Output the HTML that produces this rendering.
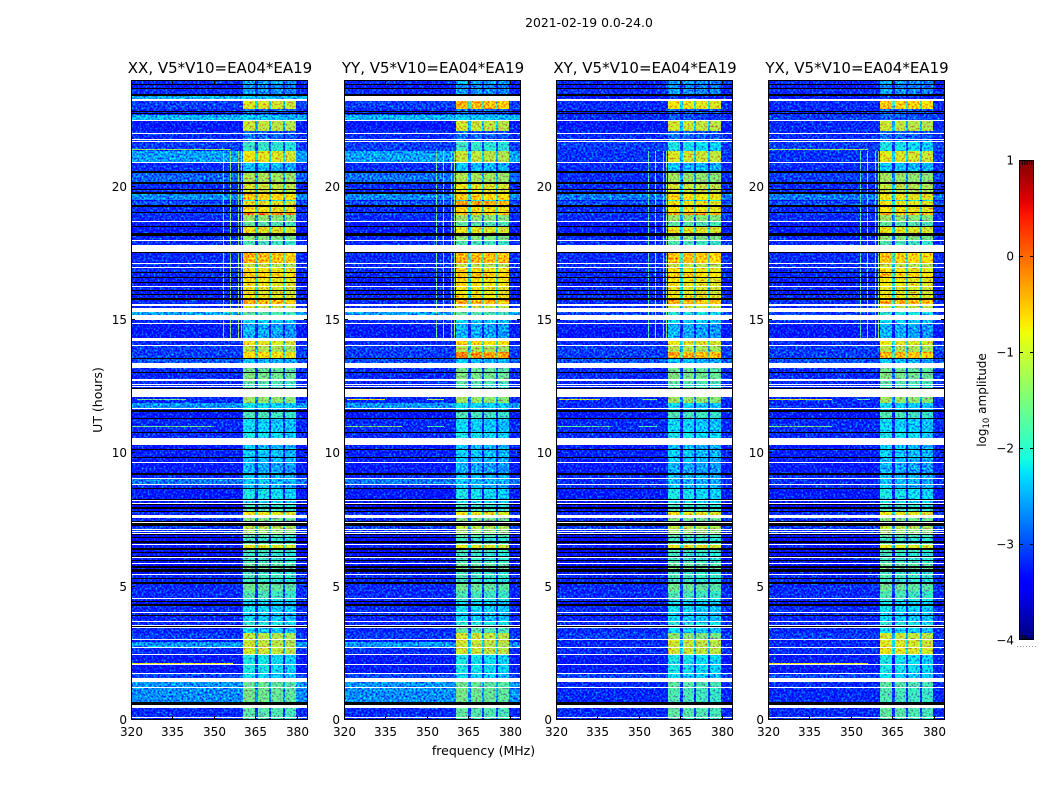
<!DOCTYPE html>
<html lang="en">
<head>
<meta charset="utf-8">
<title>2021-02-19 0.0-24.0</title>
<style>
html,body{margin:0;padding:0;background:#fff;}
svg{display:block;}
text{font-family:"DejaVu Sans","Liberation Sans",sans-serif;fill:#000;}
</style>
</head>
<body>
<svg id="figure" xmlns="http://www.w3.org/2000/svg" width="1050" height="800" viewBox="0 0 1050 800">
  <defs>
    <filter id="speckle" x="0" y="0" width="100%" height="100%" color-interpolation-filters="sRGB">
      <feTurbulence type="fractalNoise" baseFrequency="0.5" numOctaves="2" seed="7" result="n"/>
      <feColorMatrix in="n" type="matrix" values="0 0 0 0 0.544  1 0 0 0 0  0 0 0 0 0.544  0 0 0 0 1" result="g"/>
      <feComposite in="SourceGraphic" in2="g" operator="arithmetic" k1="0" k2="1" k3="1.8" k4="-0.98" result="m"/>
      <feComposite in="m" in2="SourceAlpha" operator="in"/>
    </filter>
    <linearGradient id="jet-gradient" x1="0" y1="1" x2="0" y2="0"></linearGradient>
  </defs>
  <text x="589" y="27" font-size="12.4" text-anchor="middle">2021-02-19 0.0-24.0</text>
  <text x="483.5" y="755" font-size="12.5" text-anchor="middle">frequency (MHz)</text>
  <text transform="translate(102,400) rotate(-90)" font-size="12.5" text-anchor="middle">UT (hours)</text>
  <text transform="translate(986,400) rotate(-90)" font-size="12" text-anchor="middle">log<tspan font-size="8.5" dy="3">10</tspan><tspan dy="-3"> amplitude</tspan></text>
  <g id="panels"></g>
  <g id="colorbar"></g>
</svg>
<script>
// ---- axes / categories ----
const panelNames = ["XX, V5*V10=EA04*EA19","YY, V5*V10=EA04*EA19","XY, V5*V10=EA04*EA19","YX, V5*V10=EA04*EA19"];
const xTicks = [320,335,350,365,380];
const yTicks = [0,5,10,15,20];
const cbarTicks = [1,0,-1,-2,-3,-4];

// ---- frequency zones (MHz): continuum, four sub-bands with gaps, upper edge ----
const zoneEdges = [320,360.5,365,365.8,369.8,370.5,374.9,375.6,379.8,384];
const zoneOffset = [null,0,-1.3,-0.05,-1.3,-0.1,-1.3,-0.15,null];

// ---- time rows (UT hours) ----
const rowTop = [24,23.81,23.66,23.4,23.21,22.91,22.8,22.73,22.69,22.46,
22.09,21.98,21.75,21.68,21.34,20.89,20.51,20.1,19.88,19.73,
19.5,19.46,19.24,19.01,18.94,18.68,18.49,18.15,17.96,17.51,
17.1,16.95,16.76,16.58,16.39,16.24,16.09,15.94,15.75,15.53,
15.3,15,14.85,14.21,14.03,13.8,13.54,13.2,13.01,12.71,
12.56,12.49,12.11,11.89,11.66,11.55,11.29,10.76,10.31,10.13,
9.83,9.64,9.19,9.04,8.81,8.66,8.21,8.06,7.91,7.8,
7.58,7.28,7.13,7.05,6.94,6.83,6.64,6.56,6.38,6.26,
6.08,5.96,5.85,5.7,5.55,5.44,5.29,5.1,4.84,4.54,
4.43,4.28,4.01,3.9,3.68,3.45,3.26,3,2.93,2.7,
2.44,2.06,1.73,1.43,1.2,0.45,0.08];
const rowBottom = [23.85,23.7,23.48,23.29,22.91,22.84,22.76,22.69,22.5,22.09,
22.01,21.79,21.71,21.34,20.93,20.59,20.18,19.91,19.8,19.5,
19.46,19.31,19.05,18.94,18.71,18.53,18.26,18,17.81,17.14,
16.99,16.8,16.61,16.43,16.28,16.13,15.98,15.83,15.6,15.45,
15.19,14.89,14.33,14.06,13.8,13.58,13.39,13.05,12.79,12.6,
12.53,12.45,11.89,11.7,11.63,11.33,10.8,10.58,10.16,9.86,
9.68,9.26,9.08,8.85,8.7,8.29,8.14,7.99,7.84,7.69,
7.46,7.16,7.09,7.01,6.86,6.71,6.6,6.45,6.3,6.15,
6,5.89,5.78,5.66,5.48,5.33,5.18,4.84,4.58,4.46,
4.35,4.05,3.94,3.71,3.56,3.26,3.04,2.93,2.74,2.48,
2.1,1.76,1.58,1.24,0.68,0.11,0];

// ---- dropped scans drawn black (top, bottom hours); unlisted gaps stay white ----
const blackTop = [23.85,23.7,23.48,22.84,22.76,20.59,20.18,19.91,19.8,19.31,19.05,18.53,18.26,17.55,16.8,16.61,16.43,16.13,15.98,15.83,13.58,13.05,12.45,11.63,11.33,10.8,10.16,9.86,9.26,8.7,8.29,8.1,7.99,7.84,7.46,7.39,6.98,6.86,6.71,6.45,6.3,6.15,6,5.78,5.66,5.33,5.18,4.46,4.35,3.94,3.53,0.68];
const blackBottom = [23.81,23.66,23.4,22.8,22.73,20.51,20.1,19.88,19.73,19.24,19.01,18.49,18.15,17.51,16.76,16.58,16.39,16.09,15.94,15.75,13.54,13.01,12.41,11.55,11.29,10.76,10.13,9.83,9.19,8.66,8.25,8.06,7.91,7.8,7.43,7.28,6.94,6.83,6.64,6.38,6.26,6.11,5.96,5.7,5.55,5.29,5.1,4.43,4.28,3.9,3.49,0.56];

// ---- log10 amplitude below the band (continuum), per row ----
const lowXX = [-3.1,-3.2,-3.1,-2.4,-3,-3.1,-3.2,-3.1,-2.4,-3.2,
-3.1,-3.1,-3.1,-3,-2.5,-3.1,-2.8,-3.1,-3.1,-2.6,
-3.3,-2.9,-3.1,-3,-3.1,-3.2,-3.2,-3.1,-3.1,-3.1,
-3.1,-3.1,-3.1,-3.2,-3.2,-3.1,-3.2,-3.1,-3.1,-3.1,
-2.5,-3.1,-3.2,-3.1,-3,-3,-2.9,-3.1,-3.1,-3.1,
-3.1,-3.1,-3.1,-2.55,-3.1,-3.2,-3.1,-3.1,-3.2,-3.15,
-3.2,-3.2,-3.1,-2.7,-3.1,-3.2,-3.2,-3.4,-3.2,-3.1,
-3.1,-3,-3.1,-3.1,-3.3,-3.4,-3.3,-3.2,-3.3,-3.3,
-3.2,-3.2,-3.3,-3.3,-3.2,-3.1,-3.1,-3.1,-3.1,-3.1,
-3.3,-3.1,-3.1,-3.15,-3.1,-3.1,-3,-3.2,-2.55,-3.1,
-3.2,-3.2,-2.95,-2.55,-2.6,-3.1,-3.1];
const lowYY = [-3.1,-3.2,-3.1,null,-3,-3.1,-3.2,-3.1,-2.4,-3.2,
-3.1,-3.1,-3.1,-3,-2.5,-3.1,-2.75,-3.1,-3.1,-2.6,
-3.3,-2.9,-3.1,-3,-3.1,-3.2,-3.2,-3.1,-3.1,-3.1,
-3.1,-3.1,-3.1,-3.2,-3.2,-3.1,-3.2,-3.1,-3.1,-3.1,
-2.5,-3.1,-3.2,-3.1,-3,-3,-2.9,-3.1,-3.1,-3.1,
-3.1,-3.1,-3.1,-2.55,-3.1,-3.2,-3.1,-3.1,-3.2,-3.15,
-3.2,-3.2,-3.1,-2.7,-3.1,-3.2,-3.2,-3.4,-3.2,-3.1,
-3.1,-3,-3.1,-3.1,-3.3,-3.4,-3.3,-3.2,-3.3,-3.3,
-3.2,-3.2,-3.3,-3.3,-3.2,-3.1,-3.1,-3.1,-3.1,-3.1,
-3.3,-3.1,-3.1,-3.15,-3.1,-3.1,-3,-3.2,-2.55,-3.1,
-3.2,-3.2,-2.95,-2.55,-2.6,-3.1,-3.1];
const lowXY = [-3.1,-3.2,-3.1,-3.2,-3.1,-3.1,-3.2,-3.1,-3.1,-3.2,
-3.1,-3.1,-3.1,-3,-3.05,-3.1,-3.1,-3.1,-3.1,-2.7,
-3.3,-2.9,-3.1,-3,-3.1,-3.2,-3.2,-3.1,-3.1,-3.1,
-3.1,-3.1,-3.1,-3.2,-3.2,-3.1,-3.2,-3.1,-3.1,-3.1,
-3,-3.1,-3.2,-3.1,-3,-3,-2.9,-3.1,-3.1,-3.1,
-3.1,-3.1,-3.1,-3.1,-3.1,-3.2,-3.1,-3.1,-3.2,-3.15,
-3.2,-3.2,-3.1,-3.1,-3.1,-3.2,-3.2,-3.4,-3.2,-3.1,
-3.1,-3,-3.1,-3.1,-3.3,-3.4,-3.3,-3.2,-3.3,-3.3,
-3.2,-3.2,-3.3,-3.3,-3.2,-3.1,-3.1,-3.1,-3.1,-3.1,
-3.3,-3.1,-3.1,-3.15,-3.1,-3.1,-3,-3.2,-3.1,-3.1,
-3.2,-3.2,-2.95,-3.1,-3.1,-3.1,-3.1];
const lowYX = [-3.1,-3.2,-3.1,-3.2,-3.1,-3.1,-3.2,-3.1,-3,-3.1,
-3.1,-3.1,-3.1,-3,-3.05,-3.1,-3,-3.1,-3.1,-2.7,
-3.3,-2.9,-3.1,-3,-3.1,-3.2,-3.2,-3.1,-3.1,-3.1,
-3.1,-3.1,-3.1,-3.2,-3.2,-3.1,-3.2,-3.1,-3.1,-3.1,
-3,-3.1,-3.2,-3.1,-3,-3,-2.9,-3.1,-3.1,-3.1,
-3.1,-3.1,-3.1,-3.1,-3.1,-3.2,-3.1,-3.1,-3.2,-3.15,
-3.2,-3.2,-3.1,-3.1,-3.1,-3.2,-3.2,-3.4,-3.2,-3.1,
-3.1,-3,-3.1,-3.1,-3.3,-3.4,-3.3,-3.2,-3.3,-3.3,
-3.2,-3.2,-3.3,-3.3,-3.2,-3.1,-3.1,-3.1,-3.1,-3.1,
-3.3,-3.1,-3.1,-3.15,-3.1,-3.1,-3,-3.2,-3.1,-3.1,
-3.2,-3.2,-2.95,-3.1,-3.1,-3.1,-3.1];

// ---- log10 amplitude inside the band, per row ----
const bandXX = [-2.4,-2.6,-2.5,-2.3,-0.9,-2.7,-2.8,-2.8,-2.25,-1.05,
-2.8,-2.7,-2.7,-1.9,-0.85,-2.3,-1.2,-1,-1,-0.6,
-2,-0.85,-0.75,-0.15,-1.35,-1.7,-0.85,-1.4,-1.8,-0.5,
-1.1,-0.75,-0.6,-0.8,-0.8,-0.9,-0.9,-0.8,-0.45,-1,
-1.7,-2.2,-2.4,-0.85,-1.15,-0.7,-2.3,-1.6,-1.5,-1.7,
-2,-1.7,-1.3,-2.15,-2.3,-1.8,-2.2,-2.1,-2.3,-2.25,
-2.3,-2.4,-2.3,-2.3,-2.3,-2.1,-2.1,-1.9,-1.8,-0.8,
-1.5,-1.1,-1.3,-1.3,-1.7,-1.9,-1.7,-0.85,-1.8,-1.9,
-1.9,-1.8,-1.6,-1.5,-1.9,-1.8,-1.9,-1.6,-1.8,-2,
-2.2,-2.15,-2.3,-2.2,-2,-2.2,-1.1,-1.1,-1.05,-1,
-2.1,-2.1,-2.2,-1.6,-1.55,-1.7,-1.8];
const bandYY = [-2.4,-2.6,-2.5,null,-0.5,-2.7,-2.8,-2.8,-2.25,-1,
-2.8,-2.7,-2.7,-1.9,-1.05,-2.3,-1.2,-0.85,-0.85,-0.6,
-2,-0.35,-0.7,-0.5,-1.35,-1.7,-0.85,-1.4,-1.8,-0.45,
-1.1,-0.7,-0.55,-0.7,-0.7,-0.8,-0.8,-0.7,-0.45,-1,
-1.7,-2.2,-2.4,-0.65,-1.15,-0.25,-2.3,-1.6,-1.5,-1.7,
-2,-1.7,-1.3,-2.15,-2.3,-1.8,-2.2,-2.1,-2.3,-2.25,
-2.3,-2.4,-2.3,-2.3,-2.3,-2.1,-2.1,-1.9,-1.8,-0.8,
-1.5,-1.1,-1.3,-1.3,-1.7,-1.9,-1.7,-0.85,-1.8,-1.9,
-1.9,-1.8,-1.6,-1.5,-1.9,-1.8,-1.9,-1.6,-1.8,-2,
-2.2,-2.15,-2.3,-2.2,-2,-1.7,-1,-0.95,-1.05,-1,
-2.1,-2.1,-2.2,-1.6,-1.55,-1.7,-1.8];
const bandXY = [-2.5,-2.6,-2.5,-3,-0.8,-2.7,-2.8,-2.8,-2.9,-1,
-2.8,-2.7,-2.7,-2.1,-0.95,-2.3,-1.3,-1,-1,-0.7,
-2,-0.75,-0.75,-0.35,-1.35,-1.7,-0.85,-1.4,-1.8,-0.55,
-1.1,-0.75,-0.6,-0.8,-0.8,-0.9,-0.9,-0.8,-0.45,-1,
-2,-2.2,-2.4,-0.85,-1.15,-0.4,-2.3,-1.6,-1.5,-1.7,
-2,-1.7,-1.3,-2.2,-2.3,-1.8,-2.2,-2.1,-2.3,-2.25,
-2.3,-2.4,-2.3,-2.35,-2.3,-2.1,-2.1,-1.9,-1.8,-0.8,
-1.5,-1.1,-1.3,-1.3,-1.7,-1.9,-1.7,-0.85,-1.8,-1.9,
-1.9,-1.8,-1.6,-1.5,-1.9,-1.8,-1.9,-1.6,-1.8,-2,
-2.2,-2.15,-2.3,-2.2,-2,-2.2,-1.4,-0.95,-1.05,-1,
-2.1,-2.1,-2.2,-1.7,-1.8,-1.7,-1.8];
const bandYX = [-2.5,-2.6,-2.5,-3,-0.6,-2.7,-2.8,-2.8,-2.8,-1.05,
-2.8,-2.7,-2.7,-2.1,-0.9,-2.3,-1.3,-1.1,-1.1,-0.8,
-2,-0.8,-0.75,-0.4,-1.35,-1.7,-0.85,-1.4,-1.8,-0.6,
-1.1,-0.75,-0.6,-0.8,-0.8,-0.9,-0.9,-0.8,-0.45,-1,
-2,-2.2,-2.4,-0.85,-1.15,-0.5,-2.3,-1.6,-1.5,-1.7,
-2,-1.7,-1.3,-2.2,-2.3,-1.8,-2.2,-2.1,-2.3,-2.25,
-2.3,-2.4,-2.3,-2.35,-2.3,-2.1,-2.1,-1.9,-1.8,-0.8,
-1.5,-1.1,-1.3,-1.3,-1.7,-1.9,-1.7,-0.85,-1.8,-1.9,
-1.9,-1.8,-1.6,-1.5,-1.9,-1.8,-1.9,-1.6,-1.8,-2,
-2.2,-2.15,-2.3,-2.2,-2,-2.2,-1,-0.95,-0.9,-0.85,
-2.1,-2.1,-2.2,-1.7,-1.8,-1.7,-1.8];

// ---- narrow-band interference ----
const rfiFreq = [353.4,355.8,358.6,359.7];
const rfiStartHour = 14.3;
const rfiEndHour = 21.35;
const rfiXX = [-1.7,-1.5,-1.4,-1.3];
const rfiYY = [-1.6,-1.5,-1.5,-1.4];
const rfiXY = [-1.8,-1.4,-1.5,-1.4];
const rfiYX = [-1.8,-1.4,-1.5,-1.4];

// ---- time-constant interference lines ----
const spikePanel = [0,0,0,0,1,1,1,1,2,2,2,2,3,3,3,3,3];
const spikeHour = [2.15,11.02,12.04,21.41,12.04,12.04,11.02,11.02,12.04,12.04,11.02,11.02,12.04,12.04,11.02,2.15,21.41];
const spikeFrom = [320,320,322,320,321,350,320,350,321,351,320,350,320,352,320,320,320];
const spikeTo = [356.8,350,340,356,335,356,341,356,336,356.5,340,356.5,343,357,343,356,356];
const spikeLevel = [-0.9,-1.6,-1.6,-1.3,-0.8,-1.2,-1.5,-1.8,-1,-1.5,-1.7,-1.8,-1,-1.7,-1.6,-0.9,-1.3];

// ---- bundled per-panel references ----
const lowByPanel = [lowXX,lowYY,lowXY,lowYX];
const bandByPanel = [bandXX,bandYY,bandXY,bandYX];
const rfiByPanel = [rfiXX,rfiYY,rfiXY,rfiYX];
const panelLeft = [131,344,556,768];
const panelWidth = 177, plotTop = 80, plotBottom = 720;

const NS = "http://www.w3.org/2000/svg";
function mk(tag, parent, props){
  const el = document.createElementNS(NS, tag);
  for (const k in props) el.setAttribute(k, props[k]);
  parent.appendChild(el);
  return el;
}
function lerp(pts, t){
  for (let i = 1; i < pts.length; i++){
    if (t <= pts[i][0]){
      const a = pts[i-1], b = pts[i];
      return a[1] + (b[1]-a[1]) * (t-a[0]) / (b[0]-a[0]);
    }
  }
  return pts[pts.length-1][1];
}
const jetR = [[0,0],[0.35,0],[0.66,1],[0.89,1],[1,0.5]];
const jetG = [[0,0],[0.125,0],[0.375,1],[0.64,1],[0.91,0],[1,0]];
const jetB = [[0,0.5],[0.11,1],[0.34,1],[0.65,0],[1,0]];
function jet(value){
  const t = Math.max(0, Math.min(1, (value + 4) / 5));
  const c = v => Math.round(v * 255);
  return "rgb(" + c(lerp(jetR,t)) + "," + c(lerp(jetG,t)) + "," + c(lerp(jetB,t)) + ")";
}
const yScale = h => Math.round(plotBottom - h * (plotBottom - plotTop) / 24);
const xScale = (f, left) => Math.round(left + (f - 320) * panelWidth / 64);

const panelsRoot = document.getElementById("panels");
panelNames.forEach(function(name, p){
  const left = panelLeft[p], right = left + panelWidth;
  const low = lowByPanel[p], band = bandByPanel[p], rfi = rfiByPanel[p];
  const g = mk("g", panelsRoot, {});
  
  

  const cells = mk("g", g, {filter:"url(#speckle)","shape-rendering":"crispEdges"});
  
  

  rowTop.forEach(function(top, r){
    if (low[r] === null) return;
    const y0 = yScale(top), y1 = yScale(rowBottom[r]);
    for (let z = 0; z < zoneOffset.length; z++){
      const off = zoneOffset[z];
      const v = off === null ? low[r] : Math.max(low[r], band[r] + off);
      const x0 = xScale(zoneEdges[z], left), x1 = xScale(zoneEdges[z+1], left);
      const cell = mk("rect", cells, {x:x0, y:y0, width:Math.max(1,x1-x0), height:Math.max(1,y1-y0), fill:jet(v)});
      
      
    }
    if (top <= rfiEndHour && rowBottom[r] >= rfiStartHour){
      rfiFreq.forEach(function(f, k){
        const line = mk("rect", cells, {x:xScale(f,left), y:y0, width:1, height:Math.max(1,y1-y0), fill:jet(rfi[k])});
        
        
      });
    }
  });
  spikeHour.forEach(function(h, s){
    if (spikePanel[s] !== p) return;
    const x0 = xScale(spikeFrom[s], left), x1 = xScale(spikeTo[s], left);
    const spike = mk("rect", cells, {x:x0, y:yScale(h), width:x1-x0, height:1, fill:jet(spikeLevel[s])});
    
    
  });

  const blacks = mk("g", g, {"shape-rendering":"crispEdges"});
  
  
  blackTop.forEach(function(top, b){
    const y0 = yScale(top), y1 = yScale(blackBottom[b]);
    const row = mk("rect", blacks, {x:left, y:y0, width:panelWidth, height:Math.max(1,y1-y0), fill:"#000"});
    
    
  });

  const frame = mk("rect", g, {x:left+0.5, y:plotTop+0.5, width:panelWidth-1, height:plotBottom-plotTop-1, fill:"none", stroke:"#000", "stroke-width":1});
  
  

  const title = mk("text", g, {x:left+panelWidth/2+0.5, y:73, "font-size":15, "text-anchor":"middle"});
  title.textContent = name;
  
  

  xTicks.forEach(function(f){
    const x = xScale(f, left) + 0.5;
    const t1 = mk("line", g, {x1:x, x2:x, y1:plotBottom, y2:plotBottom-4, stroke:"#000"});
    
    
    const t2 = mk("line", g, {x1:x, x2:x, y1:plotTop, y2:plotTop+4, stroke:"#000"});
    
    
    const lab = mk("text", g, {x:x, y:736, "font-size":12, "text-anchor":"middle"});
    lab.textContent = f;
    
    
  });
  yTicks.forEach(function(h){
    const y = yScale(h) - 0.5;
    const t1 = mk("line", g, {x1:left, x2:left+4, y1:y, y2:y, stroke:"#000"});
    
    
    const t2 = mk("line", g, {x1:right, x2:right-4, y1:y, y2:y, stroke:"#000"});
    
    
    const lab = mk("text", g, {x:left-4, y:y+4.5, "font-size":12, "text-anchor":"end"});
    lab.textContent = h;
    
    
  });
});

// ---- colorbar ----
const cbarLeft = 1019, cbarWidth = 15, cbarTop = 160, cbarBottom = 640;
const cbarY = v => cbarBottom - (v + 4) * (cbarBottom - cbarTop) / 5;
const grad = document.getElementById("jet-gradient");
for (let i = 0; i <= 50; i++){
  mk("stop", grad, {offset:(i*2)+"%", "stop-color":jet(-4 + i/10)});
}
const cbar = document.getElementById("colorbar");
const bar = mk("rect", cbar, {x:cbarLeft+0.5, y:cbarTop+0.5, width:cbarWidth-1, height:cbarBottom-cbarTop-1, fill:"url(#jet-gradient)", stroke:"#000", "stroke-width":1});


cbarTicks.forEach(function(v){
  const y = Math.round(cbarY(v)) + 0.5;
  if (v !== 1 && v !== -4){
    const l = mk("line", cbar, {x1:cbarLeft, x2:cbarLeft+4, y1:y, y2:y, stroke:"#000"});
    
    
    const r = mk("line", cbar, {x1:cbarLeft+cbarWidth, x2:cbarLeft+cbarWidth-4, y1:y, y2:y, stroke:"#000"});
    
    
  }
  const lab = mk("text", cbar, {x:cbarLeft-5, y:y+4, "font-size":12, "text-anchor":"end"});
  lab.textContent = v < 0 ? "\u2212" + Math.abs(v) : String(v);
  
  
});
for (let x = cbarLeft + 3.5; x < cbarLeft + cbarWidth - 2; x += 2.3){
  const a = mk("line", cbar, {x1:x, x2:x, y1:cbarTop, y2:cbarTop+5, stroke:"#000", "stroke-width":0.8});
  
  
  const b = mk("line", cbar, {x1:x, x2:x, y1:cbarBottom, y2:cbarBottom-5, stroke:"#000", "stroke-width":0.8});
  
  
}
for (let x = 1017; x < 1036; x += 3){
  const d = mk("rect", cbar, {x:x, y:646, width:1, height:1, fill:"#999"});
  
  
}
</script>
</body>
</html>
